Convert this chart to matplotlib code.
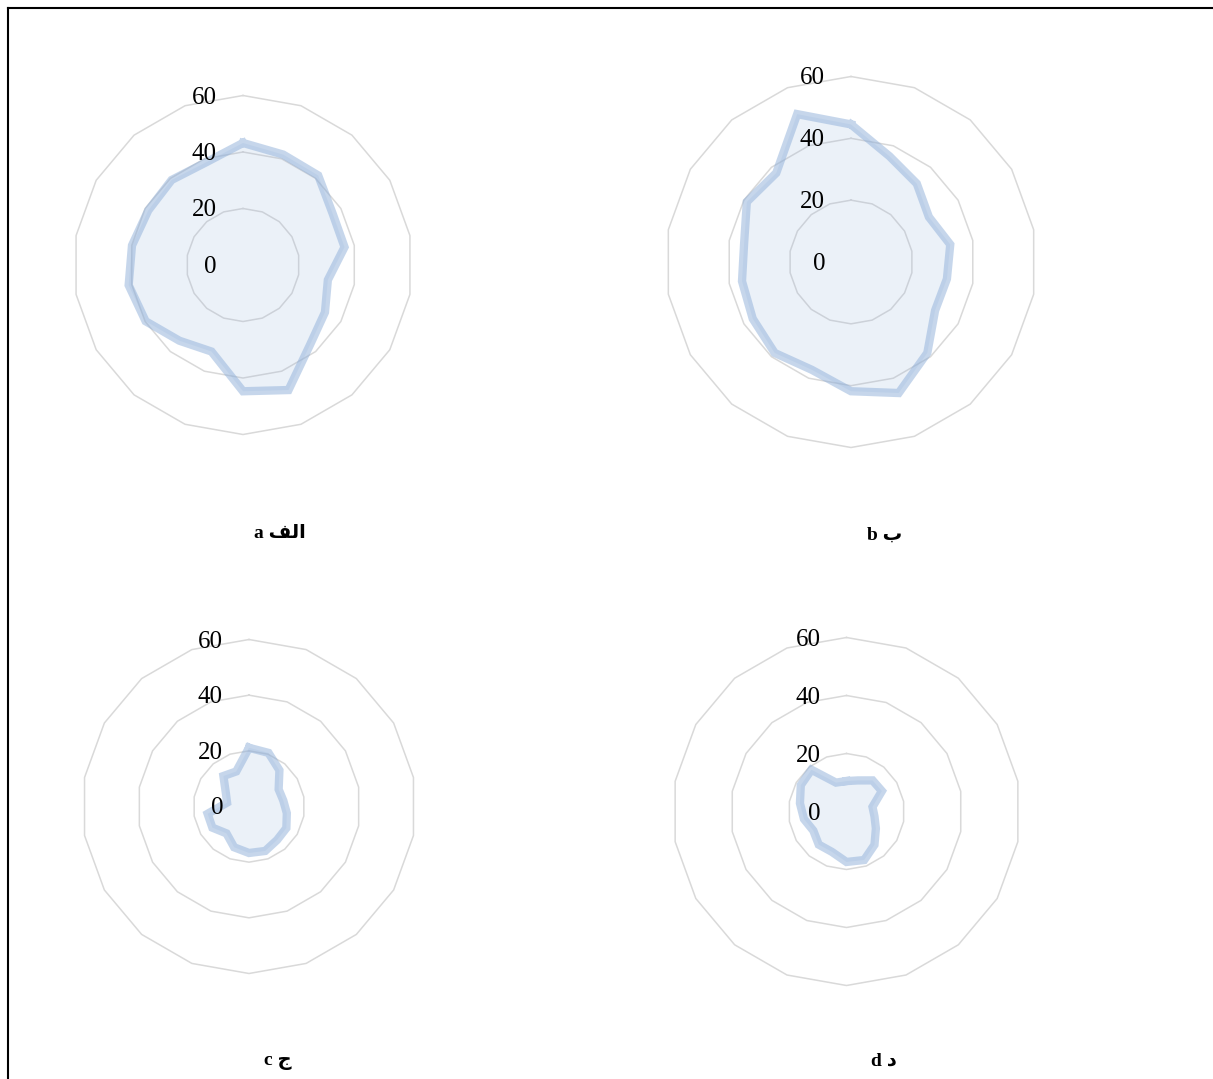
import numpy as np
import matplotlib.pyplot as plt
from matplotlib.lines import Line2D

# values, 18 spokes clockwise from the top
vals_a = [43.2, 41.6, 41.4, 36.6, 36.5, 30.5, 33.5, 36.9, 47.1, 44.7, 32.6, 35.0, 39.8, 41.1, 39.9, 38.7, 39.3, 38.6]
vals_b = [44.5, 36.4, 33.1, 29.1, 32.6, 31.5, 31.4, 38.4, 45.1, 41.8, 37.1, 38.4, 36.7, 35.8, 35.1, 38.9, 37.6, 50.9]
vals_c = [21.1, 20.5, 17.0, 12.3, 12.5, 13.8, 15.5, 15.7, 17.0, 16.7, 15.6, 12.6, 15.2, 15.1, 8.0, 9.6, 14.3, 13.4]
vals_d = [10.5, 11.4, 14.0, 14.1, 9.1, 9.8, 11.7, 15.0, 17.8, 17.4, 14.8, 14.9, 13.2, 14.9, 16.3, 18.2, 18.8, 10.6]

rings = [20, 40, 60]
tick_labels = ["0", "20", "40", "60"]

# panel captions, written in visual order (presentation forms) since matplotlib does no shaping
captions = ["a \ufed2\ufedf\ufe8d", "b \ufe8f", "c \ufe9d", "d \ufea9"]

n = 18
theta = np.linspace(0, 2 * np.pi, n, endpoint=False)
theta_closed = np.append(theta, theta[0])

W, H = 1213, 1079
fig = plt.figure(figsize=(W / 100, H / 100), dpi=100)

# axes boxes in pixels: left, top, size
boxes = [(73.5, 95.5, 339), (665.5, 76.5, 371), (82, 639.5, 334), (672.5, 637.5, 348)]
cap_pos = [(280, 534), (885, 535), (278, 1062), (884, 1061)]
all_vals = [vals_a, vals_b, vals_c, vals_d]

line_col = "#8EAFD9"
grid_col = "#D9D9D9"

for k in range(4):
    l, t, s = boxes[k]
    ax = fig.add_axes([l / W, 1 - (t + s) / H, s / W, s / H], projection="polar")
    ax.set_theta_zero_location("N")
    ax.set_theta_direction(-1)
    ax.set_ylim(0, 60)
    ax.grid(False)
    ax.set_xticks([])
    ax.set_yticks([])
    ax.spines["polar"].set_visible(False)
    ax.patch.set_alpha(0)

    for r in rings:
        ax.plot(theta_closed, [r] * (n + 1), color=grid_col, lw=1.1, clip_on=False, zorder=1)

    v = np.append(all_vals[k], all_vals[k][0])
    ax.fill(theta_closed, v, color=line_col, alpha=0.17, lw=0, zorder=2)
    ax.plot(theta_closed, v, color=line_col, alpha=0.5, lw=6, solid_joinstyle="miter", zorder=3)

    for i, lab in enumerate(tick_labels):
        ax.annotate(lab, xy=(0, i * 20), xytext=(-26, -2), textcoords="offset pixels",
                    ha="right", va="center", fontsize=18, family="Liberation Serif",
                    annotation_clip=False, zorder=4)

    cx, cy = cap_pos[k]
    fig.text(cx / W, 1 - cy / H, captions[k], ha="center", va="center", fontsize=14,
             fontweight="bold", family=["Liberation Serif", "DejaVu Sans"])

# frame lines along the top and left edge
fig.add_artist(Line2D([8 / W, 1], [1 - 8 / H, 1 - 8 / H], color="black", lw=1.5))
fig.add_artist(Line2D([8 / W, 8 / W], [0, 1 - 8 / H], color="black", lw=1.5))

plt.savefig("out.png", dpi=100)
plt.close()
